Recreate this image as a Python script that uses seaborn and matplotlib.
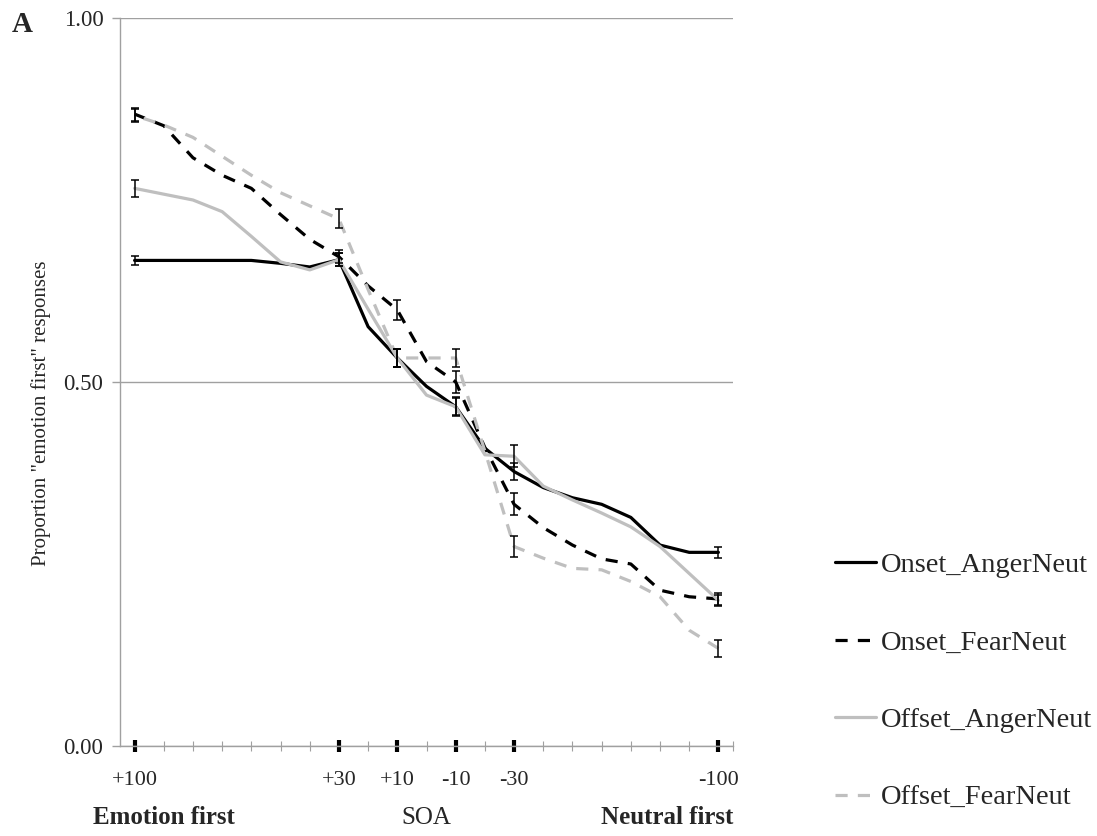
import numpy as np
import pandas as pd
import matplotlib
matplotlib.use("Agg")
import matplotlib.pyplot as plt
import seaborn as sns
from matplotlib.ticker import FixedLocator

# ---------------- data ----------------
soa = [100, 90, 80, 70, 60, 50, 40, 30, 20, 10, 0, -10, -20, -30, -40, -50, -60, -70, -80, -90, -100]
onset_anger = [0.667, 0.667, 0.667, 0.667, 0.667, 0.663, 0.658, 0.668, 0.576, 0.533, 0.494, 0.466, 0.409,
               0.377, 0.355, 0.341, 0.332, 0.314, 0.276, 0.266, 0.266]
onset_fear = [0.868, 0.852, 0.808, 0.784, 0.766, 0.730, 0.696, 0.672, 0.632, 0.599, 0.528, 0.500, 0.410,
              0.332, 0.300, 0.276, 0.257, 0.250, 0.214, 0.205, 0.202]
offset_anger = [0.766, 0.758, 0.750, 0.734, 0.700, 0.665, 0.654, 0.668, 0.600, 0.533, 0.482, 0.466, 0.400,
                0.398, 0.357, 0.338, 0.320, 0.301, 0.274, 0.237, 0.200]
offset_fear = [0.866, 0.853, 0.836, 0.810, 0.784, 0.760, 0.742, 0.724, 0.627, 0.533, 0.533, 0.533, 0.405,
               0.274, 0.258, 0.244, 0.242, 0.226, 0.205, 0.159, 0.134]

err_soa = [100, 30, 10, -10, -30, -100]
err_onset_anger = [0.006, 0.009, 0.013, 0.013, 0.012, 0.008]
err_onset_fear = [0.009, 0.009, 0.014, 0.015, 0.015, 0.008]
err_offset_anger = [0.012, 0.009, 0.012, 0.012, 0.015, 0.008]
err_offset_fear = [0.009, 0.013, 0.013, 0.013, 0.014, 0.012]

series_names = ["Onset_AngerNeut", "Onset_FearNeut", "Offset_AngerNeut", "Offset_FearNeut"]
xtick_labels = ["+100", "+30", "+10", "-10", "-30", "-100"]
minor_soa = [90, 80, 70, 60, 50, 40, 20, 0, -20, -40, -50, -60, -70, -80, -90, -105]
ytick_vals = [0.0, 0.5, 1.0]
ytick_labels = ["0.00", "0.50", "1.00"]

# ---------------- style ----------------
sns.set_theme(style="white")
plt.rcParams["font.family"] = ["Liberation Serif", "DejaVu Serif"]

W, H = 1097, 836
fig = plt.figure(figsize=(W / 100, H / 100), dpi=100)
ax = fig.add_axes([120 / W, 90 / H, 613 / W, 728 / H])

values = [onset_anger, onset_fear, offset_anger, offset_fear]
errors = [err_onset_anger, err_onset_fear, err_offset_anger, err_offset_fear]

df = pd.concat(
    [pd.DataFrame({"SOA": soa, "prop": v, "series": n}) for n, v in zip(series_names, values)],
    ignore_index=True,
)

palette = {"Onset_AngerNeut": "#000000", "Onset_FearNeut": "#000000",
           "Offset_AngerNeut": "#bfbfbf", "Offset_FearNeut": "#bfbfbf"}
dashes = {"Onset_AngerNeut": "", "Onset_FearNeut": (3.8, 3.2),
          "Offset_AngerNeut": "", "Offset_FearNeut": (3.8, 3.2)}

sns.lineplot(data=df, x="SOA", y="prop", hue="series", style="series",
             hue_order=series_names, style_order=series_names,
             palette=palette, dashes=dashes, linewidth=2.3, estimator=None,
             ax=ax)

grey = "#a0a0a0"
for n, v, e in zip(series_names, values, errors):
    yv = [v[soa.index(s)] for s in err_soa]
    ax.errorbar(err_soa, yv, yerr=e, fmt="none", ecolor="black", elinewidth=1.1,
                capsize=3, capthick=1.1, zorder=5)

ax.set_xlim(105, -105)
ax.set_ylim(0, 1)

for s in ["top", "right"]:
    ax.spines[s].set_visible(False)
for s in ["left", "bottom"]:
    ax.spines[s].set_color(grey)
    ax.spines[s].set_linewidth(1.0)

ax.set_yticks(ytick_vals, ytick_labels)
ax.yaxis.grid(True, color=grey, linewidth=1.0)
ax.xaxis.grid(False)
ax.tick_params(axis="y", which="major", left=True, direction="out", length=6, width=1,
               color=grey, labelsize=16.5, pad=6)

ax.set_xticks(err_soa, xtick_labels)
ax.xaxis.set_minor_locator(FixedLocator(minor_soa))
ax.tick_params(axis="x", which="major", bottom=True, direction="inout", length=8, width=3,
               color="black", labelsize=16, pad=14)
ax.tick_params(axis="x", which="minor", bottom=True, direction="inout", length=7, width=0.8,
               color=grey)

ax.set_ylabel('Proportion "emotion first" responses', fontsize=15)
ax.yaxis.label.set_va("center")
ax.yaxis.set_label_coords((41 - 120) / 613, (746 - 413) / 728)

ax.set_xlabel("SOA", fontsize=18)
ax.xaxis.label.set_va("center")
ax.xaxis.set_label_coords(0.5, (746 - 818) / 728)

fig.text(93 / W, 1 - 818 / H, "Emotion first", fontsize=18, fontweight="bold",
         ha="left", va="center")
fig.text(733 / W, 1 - 818 / H, "Neutral first", fontsize=18, fontweight="bold",
         ha="right", va="center")
fig.text(12 / W, 1 - 25 / H, "A", fontsize=21, fontweight="bold", ha="left", va="center")

handles, labels = ax.get_legend_handles_labels()
ax.legend(handles, labels, loc="upper left", bbox_to_anchor=(835 / W, 1 - 552 / H),
          bbox_transform=fig.transFigure, frameon=False, fontsize=20.5,
          handlelength=1.45, handletextpad=0.15, labelspacing=1.82,
          borderpad=0, borderaxespad=0)

fig.savefig("out.png", dpi=100)
